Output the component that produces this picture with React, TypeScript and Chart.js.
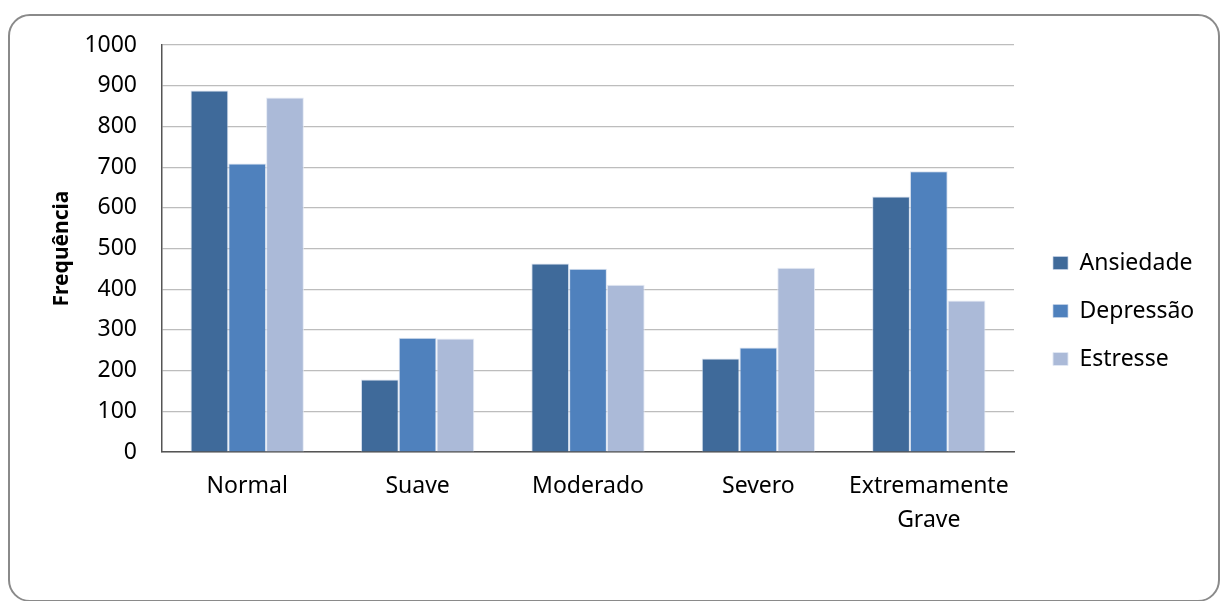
import React, { useEffect, useRef } from "react";
import { Chart, registerables } from "chart.js";

Chart.register(...registerables);

const categories: (string | string[])[] = ["Normal", "Suave", "Moderado", "Severo", ["Extremamente", "Grave"]];
const ansiedade = [888, 178, 463, 230, 628];
const depressao = [709, 281, 450, 257, 690];
const estresse = [871, 279, 411, 453, 372];
const yTicks = [0, 100, 200, 300, 400, 500, 600, 700, 800, 900, 1000];

const FONT = "'Noto Sans', 'DejaVu Sans', sans-serif";

export default function App() {
  const ref = useRef<HTMLCanvasElement | null>(null);

  useEffect(() => {
    if (!ref.current) return;
    const chart = new Chart(ref.current, {
      type: "bar",
      data: {
        labels: categories,
        datasets: [
          { label: "Ansiedade", data: ansiedade, backgroundColor: "#3F6A9A", borderColor: "rgba(200,212,232,0.7)", borderWidth: 1 },
          { label: "Depressão", data: depressao, backgroundColor: "#4F81BD", borderColor: "rgba(200,212,232,0.7)", borderWidth: 1 },
          { label: "Estresse", data: estresse, backgroundColor: "#ABBAD8", borderColor: "rgba(225,232,244,0.9)", borderWidth: 1 },
        ],
      },
      options: {
        responsive: false,
        animation: false,
        devicePixelRatio: 1,
        datasets: { bar: { categoryPercentage: 0.665, barPercentage: 1 } },
        layout: { padding: { left: 45, top: 45, bottom: 24, right: 31 } },
        plugins: {
          tooltip: { enabled: false },
          legend: {
            position: "right",
            maxWidth: 168,
            labels: {
              boxWidth: 15,
              boxHeight: 13,
              padding: 25,
              color: "#000",
              font: { family: FONT, size: 23 },
            },
          },
        },
        scales: {
          x: {
            grid: { display: false, drawTicks: false },
            border: { display: true, color: "#555", width: 1.5 },
            ticks: {
              color: "#000",
              padding: 17,
              maxRotation: 0,
              autoSkip: false,
              font: { family: FONT, size: 23, lineHeight: 1.48 },
            },
            afterFit: (s: any) => { s.height = 125; },
          },
          y: {
            min: 0,
            max: 1000,
            afterBuildTicks: (s: any) => { s.ticks = yTicks.map((v) => ({ value: v })); },
            grid: { color: "#BDBDBD", lineWidth: 1.2, drawTicks: false },
            border: { display: true, color: "#555", width: 1.5 },
            ticks: {
              color: "#000",
              padding: 25,
              font: { family: FONT, size: 23 },
              callback: (v: any) => String(v),
            },
            title: {
              display: true,
              text: "Frequência",
              color: "#000",
              font: { family: FONT, size: 21, weight: "bold" },
              padding: { top: 4, bottom: 4 },
            },
            afterFit: (s: any) => { s.width = 117; },
          },
          spacer: {
            type: "linear",
            position: "right",
            display: true,
            grid: { display: false, drawTicks: false },
            border: { display: false },
            ticks: { display: false },
            afterFit: (s: any) => { s.width = 14; },
          },
        },
      } as any,
    });
    return () => chart.destroy();
  }, []);

  return (
    <div style={{ position: "fixed", left: 0, top: 0, width: 1227, height: 601, background: "#fff" }}>
      <div
        style={{
          position: "absolute",
          left: 8,
          top: 14,
          width: 1212,
          height: 588,
          border: "2px solid #8a8a8a",
          borderRadius: 22,
          boxSizing: "border-box",
        }}
      />
      <canvas ref={ref} width={1227} height={601} style={{ position: "absolute", left: 0, top: 0, width: 1227, height: 601 }} />
    </div>
  );
}
